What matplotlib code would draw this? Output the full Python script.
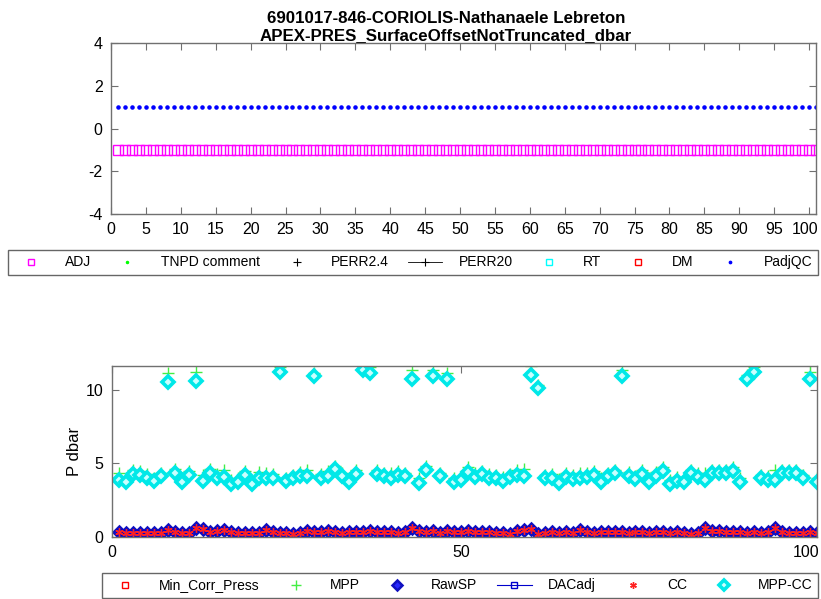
import matplotlib
matplotlib.use("Agg")
import matplotlib.pyplot as plt
from matplotlib.transforms import ScaledTranslation

plt.rcParams['font.family'] = ['Liberation Sans', 'DejaVu Sans']
plt.rcParams['axes.unicode_minus'] = False

title_lines = ["6901017-846-CORIOLIS-Nathanaele Lebreton",
               "APEX-PRES_SurfaceOffsetNotTruncated_dbar"]

# top panel: surface offset flags per cycle
cycles = list(range(1, 102))
adj = [-1] * 101
padj_qc = [1] * 101
tnpd = []
perr24 = []
perr20 = []
rt = []
dm = []

# bottom panel: surface pressure per cycle (dbar)
surface_press = [0.3, 0.25, 0.25, 0.25, 0.25, 0.25, 0.25, 0.45, 0.3, 0.25,
                 0.25, 0.6, 0.5, 0.3, 0.35, 0.45, 0.3, 0.25, 0.25, 0.25,
                 0.25, 0.45, 0.3, 0.25, 0.25, 0.15, 0.25, 0.35, 0.3, 0.3,
                 0.35, 0.3, 0.25, 0.3, 0.3, 0.3, 0.35, 0.3, 0.3, 0.3,
                 0.25, 0.3, 0.55, 0.4, 0.3, 0.35, 0.25, 0.35, 0.3, 0.3,
                 0.35, 0.3, 0.3, 0.3, 0.25, 0.25, 0.2, 0.35, 0.45, 0.5,
                 0.2, 0.25, 0.3, 0.25, 0.3, 0.25, 0.45, 0.3, 0.25, 0.3,
                 0.3, 0.3, 0.3, 0.25, 0.3, 0.3, 0.25, 0.3, 0.3, 0.25,
                 0.3, 0.25, 0.2, 0.25, 0.55, 0.35, 0.35, 0.3, 0.3, 0.3,
                 0.25, 0.3, 0.25, 0.3, 0.55, 0.3, 0.25, 0.25, 0.25, 0.3,
                 0.25]
mpp_cc = [3.86, 3.7, 4.26, 4.2, 4.0, 3.75, 4.1, 10.5, 4.3, 3.7,
          4.2, 10.6, 3.75, 4.3, 3.95, 4.05, 3.55, 3.7, 4.2, 3.55,
          3.95, 4.0, 3.95, 11.2, 3.75, 4.0, 4.15, 4.1, 10.9, 3.95,
          4.15, 4.6, 4.1, 3.7, 4.25, 11.3, 11.1, 4.25, 4.1, 4.0,
          4.2, 4.1, 10.7, 3.65, 4.55, 10.95, 4.1, 10.7, 3.7, 3.85,
          4.37, 4.04, 4.26, 3.97, 3.97, 3.81, 4.04, 4.2, 4.15, 11.0,
          10.1, 3.97, 3.97, 3.63, 4.04, 3.93, 3.97, 4.04, 4.2, 3.7,
          4.1, 4.3, 10.9, 4.15, 3.88, 4.26, 3.7, 4.15, 4.49, 3.58,
          3.81, 3.7, 4.3, 4.04, 3.86, 4.3, 4.3, 4.3, 4.49, 3.7,
          10.7, 11.2, 3.97, 3.86, 3.86, 4.3, 4.3, 4.3, 3.97, 10.7,
          3.74]
mpp = [4.3, 4.0, 4.5, 4.45, 4.25, 4.0, 4.35, 11.1, 4.6, 3.95,
       4.45, 11.2, 4.2, 4.6, 4.25, 4.5, 3.85, 4.0, 4.45, 3.8,
       4.4, 4.3, 4.25, 11.5, 4.0, 4.2, 4.4, 4.5, 11.1, 4.25,
       4.45, 4.8, 4.35, 3.95, 4.5, 11.6, 11.5, 4.5, 4.35, 4.3,
       4.45, 4.35, 11.3, 4.0, 4.8, 11.3, 4.35, 11.1, 3.95, 4.1,
       4.7, 4.3, 4.45, 4.25, 4.2, 4.05, 4.25, 4.5, 4.6, 11.6,
       10.3, 4.2, 4.25, 3.9, 4.3, 4.2, 4.3, 4.3, 4.45, 3.95,
       4.35, 4.55, 11.3, 4.4, 4.15, 4.5, 3.95, 4.4, 4.7, 3.85,
       4.05, 3.95, 4.5, 4.3, 4.3, 4.55, 4.55, 4.55, 4.75, 3.95,
       11.0, 11.5, 4.2, 4.1, 4.5, 4.55, 4.55, 4.55, 4.2, 11.2,
       4.0]

frame_col = '#707070'

fig = plt.figure(figsize=(8.21, 5.99), dpi=100)

ax1 = fig.add_axes([0.1352, 0.6427, 0.8587, 0.2855])
h = []
h += ax1.plot(cycles, adj, 's', color='#ff00ff', mfc='none', ms=6.5, mew=1.0, label='ADJ')
h += ax1.plot(tnpd, tnpd, '.', color='#00ff00', ms=4, label='TNPD comment')
h += ax1.plot(perr24, perr24, '+', color='k', ms=8, mew=0.8, label='PERR2.4')
h += ax1.plot(perr20, perr20, '-+', color='k', ms=8, lw=0.6, mew=0.8, label='PERR20')
h += ax1.plot(rt, rt, 's', color='#00ffff', mfc='none', ms=5, label='RT')
h += ax1.plot(dm, dm, 's', color='#ff0000', mfc='none', ms=5, label='DM')
h += ax1.plot(cycles, padj_qc, '.', color='#0000ff', ms=4.5, label='PadjQC')
ax1.set_xlim(0, 101)
ax1.set_ylim(-4, 4)
ax1.set_xticks(range(0, 101, 5))
ax1.set_yticks([-4, -2, 0, 2, 4])
fig.text(446 / 821, 1 - 27 / 599, "\n".join(title_lines), fontsize=12.2, fontweight='bold',
         ha='center', va='center', linespacing=1.15)

fig.legend(handles=h, loc='lower left', bbox_to_anchor=(0.0097, 0.5409, 0.9866, 0.0417),
           mode='expand', ncol=7, fontsize=10, frameon=True, fancybox=False,
           edgecolor='#404040', handlelength=2.5, borderaxespad=0, handletextpad=1.2,
           markerscale=0.75)

ax2 = fig.add_axes([0.1364, 0.1043, 0.8587, 0.2847])
g = []
g += ax2.plot(cycles, surface_press, 's', color='#ff0000', mfc='none', ms=5, label='Min_Corr_Press')
g += ax2.plot(cycles, mpp, '+', color='#44ee44', ms=9, mew=1.0, label='MPP')
g += ax2.plot(cycles, surface_press, 'D', color='#1010c0', mfc='#2828ff', ms=6.5, mew=1.8, label='RawSP')
g += ax2.plot(cycles, surface_press, '-s', color='#0000cc', mfc='none', ms=5, lw=0.8, label='DACadj')
g += ax2.plot(cycles, surface_press, marker=(6, 2, 0), ls='none', color='#ff2020', ms=6, mew=1.0, label='CC')
g += ax2.plot(cycles, mpp_cc, 'D', color='#00e8e8', mfc='#c8ffff', ms=6.5, mew=2.6, label='MPP-CC')
ax2.set_xlim(0, 101)
ax2.set_ylim(0, 11.6)
ax2.set_xticks([0, 50, 100])
ax2.set_yticks([0, 5, 10])
ax2.set_ylabel('P dbar', fontsize=12, labelpad=3)

fig.legend(handles=g, loc='lower left', bbox_to_anchor=(0.1242, 0.0017, 0.872, 0.0417),
           mode='expand', ncol=6, fontsize=10, frameon=True, fancybox=False,
           edgecolor='#404040', handlelength=2.5, borderaxespad=0, handletextpad=1.2,
           markerscale=0.8)

for ax in (ax1, ax2):
    for s in ax.spines.values():
        s.set_color(frame_col)
        s.set_linewidth(1.0)
    ax.tick_params(direction='in', top=True, right=True, length=5, width=0.8,
                   color=frame_col, labelsize=11.5, pad=6)
    # keep the last x label inside the figure
    last = ax.xaxis.get_major_ticks()[-1].label1
    last.set_horizontalalignment('right')
    last.set_transform(last.get_transform() + ScaledTranslation(9 / 100, 0, fig.dpi_scale_trans))

fig.savefig('out.png', dpi=100)
